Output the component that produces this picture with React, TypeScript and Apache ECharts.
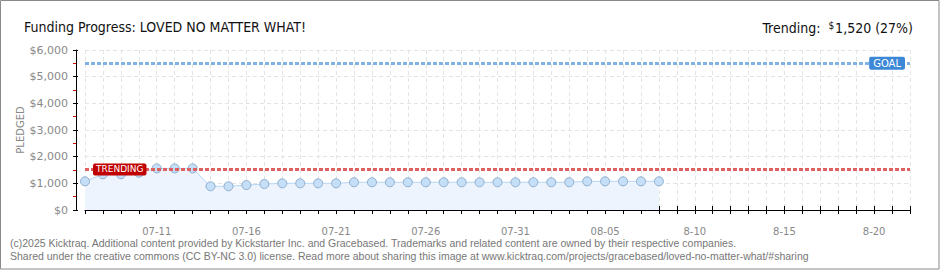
import React, { useEffect, useRef } from "react";
import * as echarts from "echarts";

const TITLE = "Funding Progress: LOVED NO MATTER WHAT!";
const TRENDING_TEXT = "Trending:";
const TRENDING_AMOUNT = "1,520 (27%)";
const FOOTER_1 =
  "(c)2025 Kicktraq. Additional content provided by Kickstarter Inc. and Gracebased. Trademarks and related content are owned by their respective companies.";
const FOOTER_2 =
  "Shared under the creative commons (CC BY-NC 3.0) license. Read more about sharing this image at www.kicktraq.com/projects/gracebased/loved-no-matter-what/#sharing";

const dates = [
  "07-07", "07-08", "07-09", "07-10", "07-11", "07-12", "07-13", "07-14", "07-15", "07-16",
  "07-17", "07-18", "07-19", "07-20", "07-21", "07-22", "07-23", "07-24", "07-25", "07-26",
  "07-27", "07-28", "07-29", "07-30", "07-31", "08-01", "08-02", "08-03", "08-04", "08-05",
  "08-06", "08-07", "08-08", "08-09", "8-10", "8-11", "8-12", "8-13", "8-14", "8-15",
  "8-16", "8-17", "8-18", "8-19", "8-20", "8-21", "8-22",
];

const pledged = [
  1075, 1340, 1340, 1400, 1560, 1560, 1560, 890, 890, 935,
  975, 1000, 1000, 1000, 1000, 1040, 1040, 1040, 1040, 1040,
  1040, 1040, 1040, 1040, 1040, 1040, 1040, 1040, 1075, 1075,
  1075, 1075, 1075,
];

const GOAL = 5500;
const TRENDING = 1520;
const Y_MIN = 0;
const Y_MAX = 6000;
const Y_STEP = 1000;

const FIRST_LABEL_INDEX = 4;
const LABEL_EVERY = 5;

export default function App() {
  const ref = useRef<HTMLDivElement>(null);

  useEffect(() => {
    if (!ref.current) return;
    const chart = echarts.init(ref.current, null, { renderer: "svg" });
    const titleFont = "'DejaVu Sans Condensed', sans-serif";
    const axisFont = "'DejaVu Sans', sans-serif";

    chart.setOption({
      animation: false,
      backgroundColor: "#ffffff",
      title: [
        {
          text: TITLE,
          left: 19,
          top: 15,
          textStyle: { fontFamily: titleFont, fontSize: 14, fontWeight: "normal", color: "#111" },
        },
        {
          text: `${TRENDING_TEXT}  {s|$}${TRENDING_AMOUNT}`,
          right: 22,
          top: 15,
          textStyle: {
            fontFamily: titleFont,
            fontSize: 14,
            fontWeight: "normal",
            color: "#111",
            rich: {
              s: { fontFamily: titleFont, fontSize: 10, color: "#111", verticalAlign: "top", padding: [0, 1, 5, 0] },
            },
          },
        },
      ],
      grid: { left: 85, right: 30, top: 50, bottom: 60, containLabel: false },
      xAxis: [
        {
          type: "category",
          data: dates,
          boundaryGap: false,
          position: "bottom",
          offset: 10,
          axisLine: { show: true, lineStyle: { color: "#000", width: 1 } },
          axisTick: { show: true, interval: 0, length: 4, lineStyle: { color: "#000" } },
          axisLabel: {
            interval: (i: number) => i >= FIRST_LABEL_INDEX && (i - FIRST_LABEL_INDEX) % LABEL_EVERY === 0,
            color: "#888",
            fontFamily: axisFont,
            fontSize: 10,
            margin: 6,
          },
          splitLine: {
            show: true,
            interval: 0,
            lineStyle: { color: "#e4e4e4", type: [4, 3], width: 1 },
          },
        },
        {
          type: "category",
          data: dates,
          boundaryGap: false,
          position: "bottom",
          offset: 10,
          axisLine: { show: false },
          axisTick: { show: true, inside: true, interval: 0, length: 4, lineStyle: { color: "#000" } },
          axisLabel: { show: false },
          splitLine: { show: false },
        },
      ],
      yAxis: [
        {
          type: "value",
          min: Y_MIN,
          max: Y_MAX,
          interval: Y_STEP,
          position: "left",
          offset: 9,
          name: "PLEDGED",
          nameLocation: "middle",
          nameGap: 51,
          nameMoveOverlap: false,
          nameTextStyle: { color: "#888", fontFamily: axisFont, fontSize: 10 },
          axisLine: { show: true, lineStyle: { color: "#000", width: 1 } },
          axisTick: { show: true, length: 3, lineStyle: { color: "#000" } },
          minorTick: { show: true, splitNumber: 2, length: 3, lineStyle: { color: "#e00000" } },
          axisLabel: {
            color: "#888",
            fontFamily: axisFont,
            fontSize: 11,
            margin: 8,
            formatter: (v: number) => "$" + v.toLocaleString("en-US"),
          },
          splitLine: { show: true, lineStyle: { color: "#e4e4e4", type: [4, 3], width: 1 } },
          minorSplitLine: { show: false },
        },
        {
          type: "value",
          min: Y_MIN,
          max: Y_MAX,
          interval: Y_STEP,
          position: "left",
          offset: 9,
          axisLine: { show: false },
          axisTick: { show: true, inside: true, length: 2, lineStyle: { color: "#000" } },
          axisLabel: { show: false },
          splitLine: { show: false },
        },
      ],
      series: [
        {
          type: "line",
          data: [],
          z: 1,
          silent: true,
          markLine: {
            silent: true,
            symbol: "none",
            data: [
              {
                yAxis: GOAL,
                lineStyle: { color: "#7fb2e5", width: 3, type: [4, 2] },
                label: {
                  show: true,
                  position: "insideEnd",
                  distance: [5, 0],
                  formatter: "GOAL",
                  color: "#fff",
                  backgroundColor: "#3d88d6",
                  borderRadius: 2,
                  padding: [2, 4, 1, 4],
                  fontFamily: axisFont,
                  fontSize: 10,
                },
              },
              {
                yAxis: TRENDING,
                lineStyle: { color: "#dd6161", width: 3, type: [4, 2] },
                label: {
                  show: true,
                  position: "insideStart",
                  distance: [8, 0],
                  formatter: "TRENDING",
                  color: "#fff",
                  backgroundColor: "#c00000",
                  borderRadius: 2,
                  padding: [2, 3, 1, 3],
                  fontFamily: axisFont,
                  fontSize: 9,
                },
              },
            ],
          },
        },
        {
          type: "line",
          data: pledged,
          z: 3,
          symbol: "circle",
          symbolSize: 9,
          showSymbol: true,
          lineStyle: { color: "#b6d6f5", width: 1 },
          itemStyle: { color: "#c5dff9", borderColor: "#8eadcc", borderWidth: 1 },
          areaStyle: { color: "#edf4fd", opacity: 1 },
        },
      ],
      graphic: [
        {
          type: "text",
          left: 10,
          top: 237,
          style: { text: FOOTER_1, fill: "#777", font: "10.5px 'Liberation Sans', sans-serif" },
        },
        {
          type: "text",
          left: 10,
          top: 250,
          style: { text: FOOTER_2, fill: "#777", font: "10.5px 'Liberation Sans', sans-serif" },
        },
        {
          type: "rect",
          shape: { x: 0.5, y: 0.5, width: 938.5, height: 268.5 },
          style: { fill: "none", stroke: "#8a8a8a", lineWidth: 1 },
          silent: true,
        },
      ],
    });

    return () => chart.dispose();
  }, []);

  return (
    <div style={{ position: "fixed", left: 0, top: 0, width: 940, height: 270 }}>
      <div ref={ref} style={{ width: 940, height: 270 }} />
    </div>
  );
}
